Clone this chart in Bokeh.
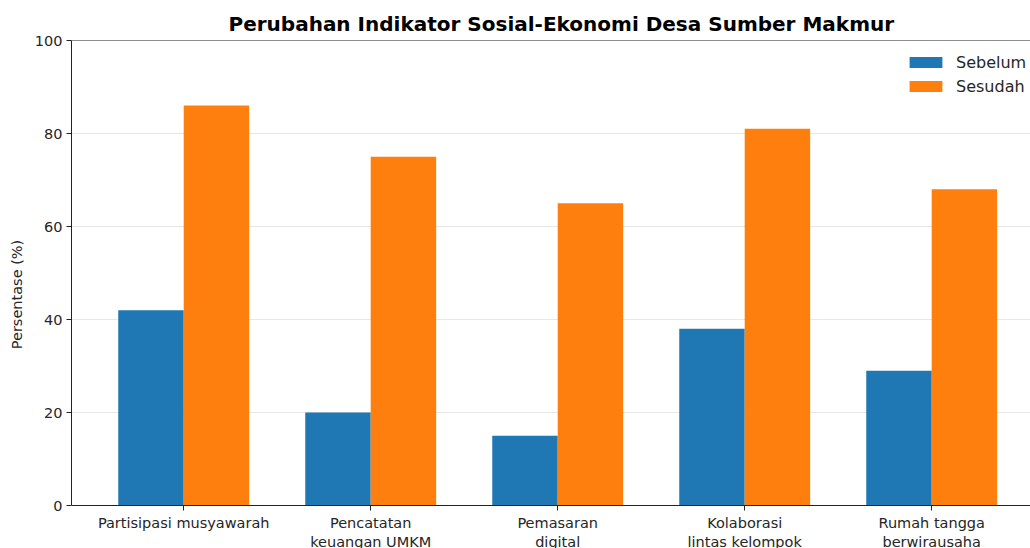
import numpy as np
from bokeh.plotting import figure
from bokeh.models import (ColumnDataSource, Range1d, FixedTicker, Span,
                          Legend, LegendItem)
from bokeh.embed import file_html
from bokeh.resources import INLINE

# ---- data ----
categories = ["Partisipasi musyawarah", "Pencatatan\nkeuangan UMKM", "Pemasaran\ndigital",
              "Kolaborasi\nlintas kelompok", "Rumah tangga\nberwirausaha"]
sebelum = [42, 20, 15, 38, 29]
sesudah = [86, 75, 65, 81, 68]
series_names = ["Sebelum", "Sesudah"]
y_ticks = [0, 20, 40, 60, 80, 100]
title_text = "Perubahan Indikator Sosial-Ekonomi Desa Sumber Makmur"
y_label = "Persentase (%)"

FONT = "DejaVu Sans"
TXT = "#262626"
W, H = 1030, 548
LEFT, TOP, ZERO_Y = 71, 40, 505
bar_w = 0.35
idx = np.arange(len(categories))
px_per_unit = (ZERO_Y - TOP) / 100.0
y_start = -(H - ZERO_Y) / px_per_unit

p = figure(width=W, height=H, output_backend="svg", toolbar_location=None,
           x_range=Range1d(-0.6, -0.6 + (W - LEFT) / 187.0),
           y_range=Range1d(y_start, 100),
           min_border_left=LEFT, min_border_right=0, min_border_top=TOP, min_border_bottom=0)

src = ColumnDataSource(dict(x=idx, x1=idx - bar_w / 2, x2=idx + bar_w / 2,
                            seb=sebelum, ses=sesudah))
r1 = p.vbar(x="x1", top="seb", width=bar_w, source=src, fill_color="#1f77b4", line_color=None)
r2 = p.vbar(x="x2", top="ses", width=bar_w, source=src, fill_color="#ff7f0e", line_color=None)

# title
p.title.text = title_text
p.title.align = "left"
p.title.offset = 157
p.title.text_font = FONT
p.title.text_font_size = "20px"
p.title.text_font_style = "bold"
p.title.text_color = "black"
p.title.standoff = 9

# axes
p.outline_line_color = None
for ax in (p.xaxis[0], p.yaxis[0]):
    ax.axis_line_color = "#222222"
    ax.major_tick_line_color = "#222222"
    ax.major_tick_out = 5
    ax.major_tick_in = 0
    ax.minor_tick_line_color = None
    ax.major_label_text_font = FONT
    ax.major_label_text_font_size = "14.5px"
    ax.major_label_text_color = TXT
    ax.major_label_standoff = 4

p.xaxis.ticker = FixedTicker(ticks=list(idx))
p.xaxis.major_label_overrides = {int(i): c for i, c in zip(idx, categories)}
p.xaxis.fixed_location = 0
p.yaxis.ticker = FixedTicker(ticks=y_ticks)
p.yaxis.bounds = (0, 100)
p.yaxis.axis_label = y_label
p.yaxis.axis_label_text_font = FONT
p.yaxis.axis_label_text_font_size = "14.5px"
p.yaxis.axis_label_text_font_style = "normal"
p.yaxis.axis_label_text_color = TXT
p.yaxis.axis_label_standoff = 7

p.xgrid.visible = False
p.ygrid.grid_line_color = "#b0b0b0"
p.ygrid.grid_line_alpha = 0.3

p.add_layout(Span(location=100, dimension="width", line_color="#222222", line_width=1))

legend = Legend(items=[LegendItem(label=series_names[0], renderers=[r1]),
                       LegendItem(label=series_names[1], renderers=[r2])],
                location=(834, 452), border_line_color=None, background_fill_alpha=0,
                padding=0, margin=0, spacing=4, glyph_width=41, glyph_height=14,
                label_standoff=10, label_text_font=FONT, label_text_font_size="16px",
                label_text_color=TXT, label_height=20)
p.add_layout(legend)

open("out.html", "w").write(file_html(p, INLINE))
